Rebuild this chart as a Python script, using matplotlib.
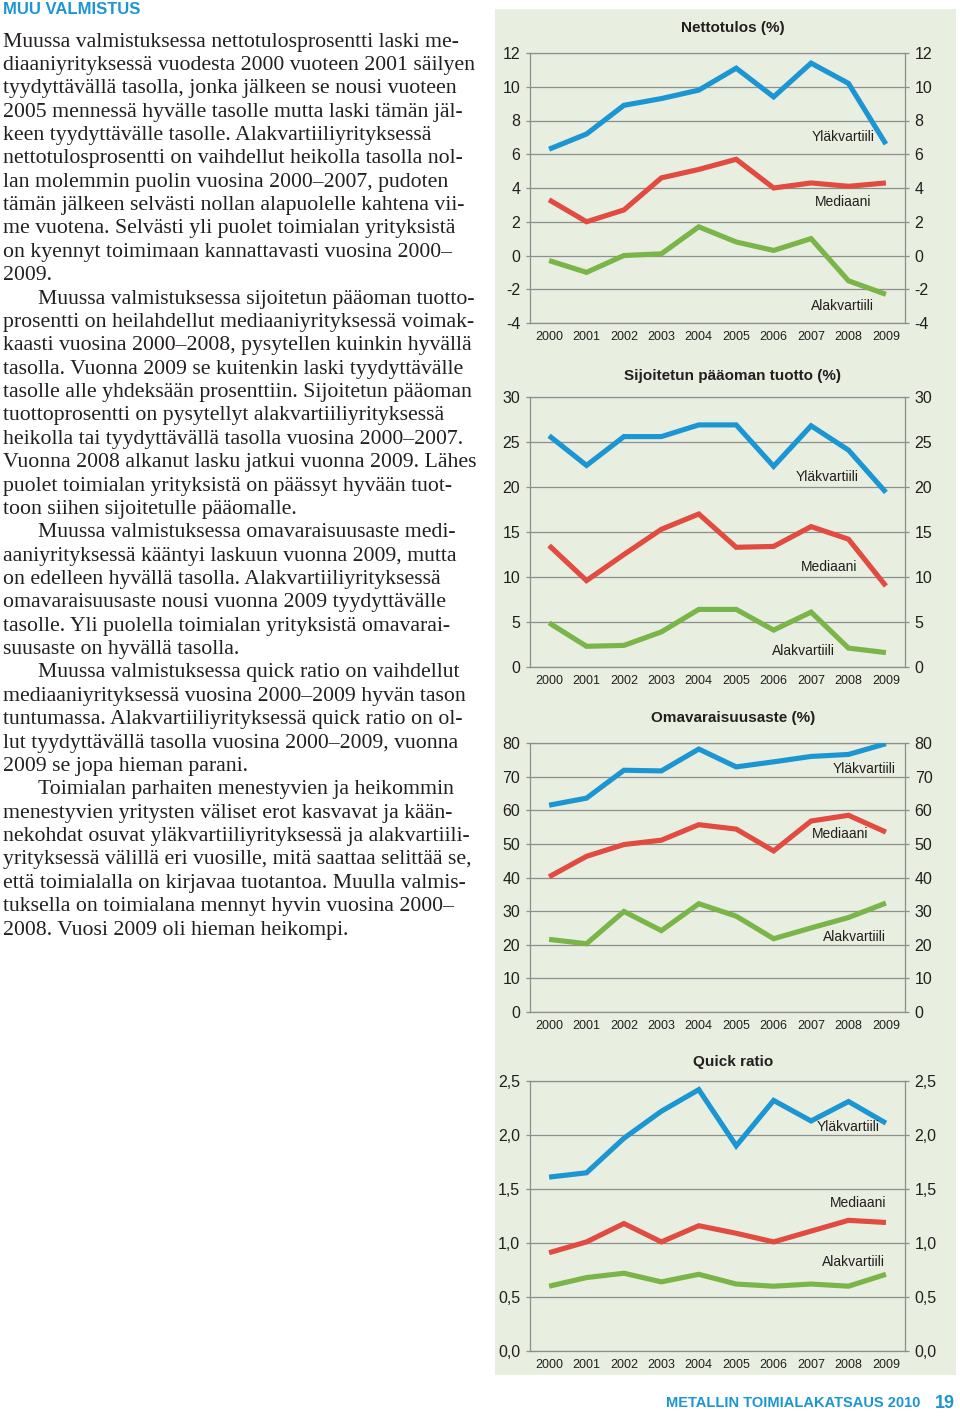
import matplotlib
matplotlib.use('Agg')
import matplotlib.pyplot as plt
from matplotlib import font_manager
from matplotlib.patches import Rectangle

W, H = 960, 1417

# --- data ---------------------------------------------------------------
years = ['2000', '2001', '2002', '2003', '2004', '2005', '2006', '2007', '2008', '2009']

netto_yla = [6.3, 7.2, 8.9, 9.3, 9.8, 11.1, 9.4, 11.4, 10.2, 6.6]
netto_med = [3.3, 2.0, 2.7, 4.6, 5.1, 5.7, 4.0, 4.3, 4.1, 4.3]
netto_ala = [-0.3, -1.0, 0.0, 0.1, 1.7, 0.8, 0.3, 1.0, -1.5, -2.3]

spt_yla = [25.7, 22.4, 25.6, 25.6, 26.9, 26.9, 22.3, 26.8, 24.1, 19.4]
spt_med = [13.5, 9.6, 12.5, 15.3, 17.0, 13.3, 13.4, 15.6, 14.2, 9.0]
spt_ala = [4.9, 2.3, 2.4, 3.9, 6.4, 6.4, 4.1, 6.1, 2.1, 1.6]

oma_yla = [61.5, 63.6, 71.9, 71.7, 78.2, 72.9, 74.4, 76.0, 76.6, 79.8]
oma_med = [40.2, 46.3, 49.8, 51.1, 55.7, 54.4, 47.9, 56.8, 58.5, 53.5]
oma_ala = [21.6, 20.3, 29.9, 24.2, 32.2, 28.5, 21.8, 25.0, 28.1, 32.4]

qr_yla = [1.61, 1.65, 1.97, 2.22, 2.42, 1.90, 2.32, 2.13, 2.31, 2.11]
qr_med = [0.91, 1.01, 1.18, 1.01, 1.16, 1.09, 1.01, 1.11, 1.21, 1.19]
qr_ala = [0.60, 0.68, 0.72, 0.64, 0.71, 0.62, 0.60, 0.62, 0.60, 0.71]

netto_ticks = [-4, -2, 0, 2, 4, 6, 8, 10, 12]
spt_ticks = [0, 5, 10, 15, 20, 25, 30]
oma_ticks = [0, 10, 20, 30, 40, 50, 60, 70, 80]
qr_ticks = [0.0, 0.5, 1.0, 1.5, 2.0, 2.5]
qr_ticklabels = ['0,0', '0,5', '1,0', '1,5', '2,0', '2,5']

series_names = ['Yläkvartiili', 'Mediaani', 'Alakvartiili']

body_lines = [
    "Muussa valmistuksessa nettotulosprosentti laski me-",
    "diaaniyrityksessä vuodesta 2000 vuoteen 2001 säilyen",
    "tyydyttävällä tasolla, jonka jälkeen se nousi vuoteen",
    "2005 mennessä hyvälle tasolle mutta laski tämän jäl-",
    "keen tyydyttävälle tasolle. Alakvartiiliyrityksessä",
    "nettotulosprosentti on vaihdellut heikolla tasolla nol-",
    "lan molemmin puolin vuosina 2000–2007, pudoten",
    "tämän jälkeen selvästi nollan alapuolelle kahtena vii-",
    "me vuotena. Selvästi yli puolet toimialan yrityksistä",
    "on kyennyt toimimaan kannattavasti vuosina 2000–",
    "2009.",
    "\tMuussa valmistuksessa sijoitetun pääoman tuotto-",
    "prosentti on heilahdellut mediaaniyrityksessä voimak-",
    "kaasti vuosina 2000–2008, pysytellen kuinkin hyvällä",
    "tasolla. Vuonna 2009 se kuitenkin laski tyydyttävälle",
    "tasolle alle yhdeksään prosenttiin. Sijoitetun pääoman",
    "tuottoprosentti on pysytellyt alakvartiiliyrityksessä",
    "heikolla tai tyydyttävällä tasolla vuosina 2000–2007.",
    "Vuonna 2008 alkanut lasku jatkui vuonna 2009. Lähes",
    "puolet toimialan yrityksistä on päässyt hyvään tuot-",
    "toon siihen sijoitetulle pääomalle.",
    "\tMuussa valmistuksessa omavaraisuusaste medi-",
    "aaniyrityksessä kääntyi laskuun vuonna 2009, mutta",
    "on edelleen hyvällä tasolla. Alakvartiiliyrityksessä",
    "omavaraisuusaste nousi vuonna 2009 tyydyttävälle",
    "tasolle. Yli puolella toimialan yrityksistä omavarai-",
    "suusaste on hyvällä tasolla.",
    "\tMuussa valmistuksessa quick ratio on vaihdellut",
    "mediaaniyrityksessä vuosina 2000–2009 hyvän tason",
    "tuntumassa. Alakvartiiliyrityksessä quick ratio on ol-",
    "lut tyydyttävällä tasolla vuosina 2000–2009, vuonna",
    "2009 se jopa hieman parani.",
    "\tToimialan parhaiten menestyvien ja heikommin",
    "menestyvien yritysten väliset erot kasvavat ja kään-",
    "nekohdat osuvat yläkvartiiliyrityksessä ja alakvartiili-",
    "yrityksessä välillä eri vuosille, mitä saattaa selittää se,",
    "että toimialalla on kirjavaa tuotantoa. Muulla valmis-",
    "tuksella on toimialana mennyt hyvin vuosina 2000–",
    "2008. Vuosi 2009 oli hieman heikompi.",
]

# --- style --------------------------------------------------------------
BLUE = '#1c96d3'
RED = '#e14b40'
GREEN = '#79b548'
PANEL = '#e8eee0'
GRID = '#8e8e8e'
INK = '#231f20'

names = {f.name for f in font_manager.fontManager.ttflist}
cond = 'Liberation Sans Narrow' if 'Liberation Sans Narrow' in names else 'Liberation Sans'
serif = 'Liberation Serif'

fig = plt.figure(figsize=(W / 100, H / 100), dpi=100)
fig.patch.set_facecolor('white')


def fx(x):
    return x / W


def fy(y):
    return 1 - y / H


# gray panel behind the charts
fig.patches.append(Rectangle((fx(495), fy(1375)), (956 - 495) / W, (1375 - 9) / H,
                             transform=fig.transFigure, facecolor=PANEL,
                             edgecolor='none', zorder=-5))


def chart(top, bottom, yticks, yticklabels, yla, med, ala, title, title_y, label_xy):
    ax = fig.add_axes([fx(530), fy(bottom), (905 - 530) / W, (bottom - top) / H])
    ax.set_facecolor('none')
    x = list(range(len(years)))
    for vals, c in zip([yla, med, ala], [BLUE, RED, GREEN]):
        ax.plot(x, vals, color=c, lw=3.7, solid_joinstyle='miter', solid_capstyle='butt', zorder=3)
    ax.set_xlim(-0.51, 9.51)
    ax.set_ylim(yticks[0], yticks[-1])
    ax.set_yticks(yticks)
    ax.set_yticklabels(yticklabels)
    ax.set_xticks(x)
    ax.set_xticklabels(years)
    ax.grid(axis='y', color=GRID, lw=0.9, zorder=1)
    ax.set_axisbelow(True)
    for s in ['left', 'right', 'bottom', 'top']:
        ax.spines[s].set_color(GRID)
        ax.spines[s].set_linewidth(0.9)
    ax.tick_params(axis='y', left=True, right=True, labelleft=True, labelright=True,
                   length=3, width=0.9, color=GRID, labelsize=11.5, pad=4, labelcolor=INK)
    ax.tick_params(axis='x', length=0, labelsize=9, pad=6, labelcolor=INK)
    for lab in ax.get_xticklabels() + ax.get_yticklabels():
        lab.set_fontfamily(cond)
    for name, (lx, ly) in zip(series_names, label_xy):
        ax.text(lx, ly, name, ha='center', va='center', fontsize=10,
                fontfamily=cond, color=INK, zorder=4)
    fig.text(fx(733), fy(title_y), title, ha='center', va='center', fontsize=11,
             fontweight='bold', fontfamily=cond, color=INK)
    return ax


chart(53, 323, netto_ticks, [str(t) for t in netto_ticks], netto_yla, netto_med, netto_ala,
      'Nettotulos (%)', 28, [(7.85, 7.0), (7.87, 3.2), (7.85, -3.0)])
chart(397, 667, spt_ticks, [str(t) for t in spt_ticks], spt_yla, spt_med, spt_ala,
      'Sijoitetun pääoman tuotto (%)', 376, [(7.42, 21.1), (7.47, 11.1), (6.80, 1.8)])
chart(743, 1012, oma_ticks, [str(t) for t in oma_ticks], oma_yla, oma_med, oma_ala,
      'Omavaraisuusaste (%)', 718, [(8.41, 72.3), (7.77, 52.9), (8.17, 22.3)])
chart(1081, 1351, qr_ticks, qr_ticklabels, qr_yla, qr_med, qr_ala,
      'Quick ratio', 1062, [(7.98, 2.07), (8.25, 1.37), (8.12, 0.82)])

# --- left column text -----------------------------------------------------
fig.text(fx(3), fy(10), 'MUU VALMISTUS', ha='left', va='center', fontsize=12,
         fontweight='bold', fontfamily=cond, color=BLUE)

# pick a body size so the first line spans the column width
renderer = fig.canvas.get_renderer()
probe = fig.text(0, 0, body_lines[0], fontsize=14, fontfamily=serif)
w = probe.get_window_extent(renderer).width
probe.remove()
body_size = 14 * 462 / w

y0, step = 42, (930 - 42) / 38
for i, line in enumerate(body_lines):
    x = 3
    if line.startswith('\t'):
        x = 38
        line = line[1:]
    fig.text(fx(x), fy(y0 + i * step), line, ha='left', va='center',
             fontsize=body_size, fontfamily=serif, color=INK)

# footer
fig.text(fx(920), fy(1403), 'METALLIN TOIMIALAKATSAUS 2010', ha='right', va='center',
         fontsize=10.5, fontweight='bold', fontfamily=cond, color=BLUE)
fig.text(fx(955), fy(1403), '19', ha='right', va='center',
         fontsize=13, fontweight='bold', fontfamily=cond, color=BLUE)

fig.savefig('out.png', dpi=100)
